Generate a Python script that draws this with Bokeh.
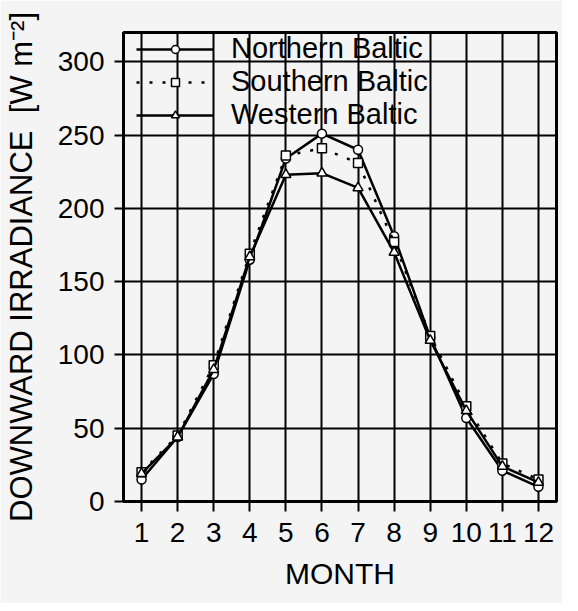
from bokeh.plotting import figure
from bokeh.models import Range1d, FixedTicker, Legend, LegendItem
from bokeh.embed import file_html
from bokeh.resources import INLINE

months = [1, 2, 3, 4, 5, 6, 7, 8, 9, 10, 11, 12]
northern = [15, 44, 87, 165, 234, 251, 240, 181, 112, 57, 21, 10]
southern = [20, 45, 93, 169, 236, 241, 231, 177, 113, 65, 26, 15]
western = [19, 44, 90, 167, 223, 224, 214, 170, 110, 62, 24, 13]
y_ticks = [0, 50, 100, 150, 200, 250, 300]
series_names = ["Northern Baltic", "Southern Baltic", "Western Baltic"]

FONT = "Liberation Sans"
BG = "#f4f4f4"

p = figure(width=562, height=603, output_backend="svg", toolbar_location=None,
           x_range=Range1d(0.5, 12.5), y_range=Range1d(0, 320),
           min_border_left=121, min_border_right=6, min_border_top=32, min_border_bottom=102,
           background_fill_color=BG, border_fill_color=BG)

p.outline_line_color = "black"
p.outline_line_width = 3

p.xaxis.ticker = FixedTicker(ticks=months)
p.yaxis.ticker = FixedTicker(ticks=y_ticks)
for ax in (p.xaxis[0], p.yaxis[0]):
    ax.axis_line_color = "black"
    ax.axis_line_width = 3
    ax.major_tick_line_color = "black"
    ax.major_tick_line_width = 2
    ax.major_tick_in = 0
    ax.minor_tick_line_color = None
    ax.major_label_text_font = FONT
    ax.major_label_text_font_size = "28px"
    ax.major_label_text_color = "black"
    ax.axis_label_text_font = FONT
    ax.axis_label_text_font_style = "normal"
    ax.axis_label_text_color = "black"

p.xaxis.major_tick_out = 10
p.yaxis.major_tick_out = 9
p.xaxis.major_label_standoff = 11
p.yaxis.major_label_standoff = 10
p.xaxis.axis_label = "MONTH"
p.xaxis.axis_label_text_font_size = "30px"
p.xaxis.axis_label_standoff = 12
p.yaxis.axis_label = "DOWNWARD IRRADIANCE\u00a0\u00a0[W m\u207b\u00b2]"
p.yaxis.axis_label_text_font_size = "31px"
p.yaxis.axis_label_standoff = 16

p.grid.grid_line_color = "black"
p.grid.grid_line_width = 2
p.grid.grid_line_alpha = 1.0

lw = 2.5
l1 = p.line(months, northern, line_color="black", line_width=lw)
m1 = p.scatter(months, northern, marker="circle", size=9, fill_color="white",
               line_color="black", line_width=1.5)
l2 = p.line(months, southern, line_color="black", line_width=lw, line_dash="3 10")
m2 = p.scatter(months, southern, marker="square", size=9, fill_color="white",
               line_color="black", line_width=1.5)
l3 = p.line(months, western, line_color="black", line_width=lw)
m3 = p.scatter(months, western, marker="triangle", size=10, fill_color="white",
               line_color="black", line_width=1.5)

legend = Legend(items=[
    LegendItem(label=series_names[0], renderers=[l1, m1]),
    LegendItem(label=series_names[1], renderers=[l2, m2]),
    LegendItem(label=series_names[2], renderers=[l3, m3]),
], location=(13, 370))
legend.background_fill_alpha = 0
legend.border_line_alpha = 0
legend.padding = 0
legend.margin = 0
legend.spacing = -1
legend.glyph_width = 78
legend.glyph_height = 20
legend.label_standoff = 17
legend.label_text_font = FONT
legend.label_text_font_size = "29px"
legend.label_text_line_height = 1.0
legend.label_text_color = "black"
p.add_layout(legend)

open("out.html", "w").write(file_html(p, INLINE))
